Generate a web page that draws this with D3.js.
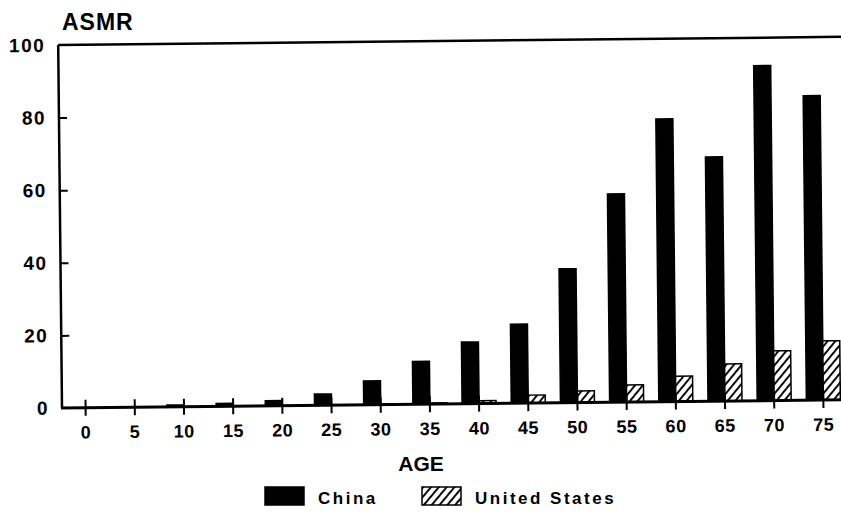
<!DOCTYPE html>
<html>
<head>
<meta charset="utf-8">
<script src="https://cdn.jsdelivr.net/npm/d3@7"></script>
<style>
  body { margin: 0; background: #fff; }
  svg { display: block; }
  text { font-family: "Liberation Sans", Arial, sans-serif; font-weight: bold; fill: #000; }
</style>
</head>
<body>
<div id="chart"></div>
<script>
// Age groups and age-specific mortality rates
const ages = ["0", "5", "10", "15", "20", "25", "30", "35", "40", "45", "50", "55", "60", "65", "70", "75"];
const china = [0, 0, 0.5, 0.8, 1.4, 3.1, 6.6, 11.8, 17, 21.8, 36.9, 57.4, 77.9, 67.3, 92.3, 83.9];
const usa = [0, 0, 0, 0, 0, 0.1, 0.2, 0.3, 0.8, 2.2, 3.2, 4.7, 7, 10.2, 13.7, 16.3];
const series = ["China", "United States"];
const yTicks = [0, 20, 40, 60, 80, 100];

const width = 841, height = 515;

const svg = d3.select("#chart").append("svg")
    .attr("width", width)
    .attr("height", height);

// hatch fill for the US bars ("////")
const defs = svg.append("defs");
const pat = defs.append("pattern")
    .attr("id", "hatch")
    .attr("patternUnits", "userSpaceOnUse")
    .attr("width", 6)
    .attr("height", 6)
    .attr("patternTransform", "rotate(40)");
pat.append("rect").attr("width", 6).attr("height", 6).attr("fill", "#fff");
pat.append("line")
    .attr("x1", 0).attr("y1", 0).attr("x2", 0).attr("y2", 6)
    .attr("stroke", "#000")
    .attr("stroke-width", 3.8);

// the scan is slightly tilted, so the plot is rotated a touch
const g = svg.append("g").attr("transform", "rotate(-0.6, 62, 408)");

const x = d3.scaleBand().domain(ages).range([61, 848]).padding(0);
const barW = 17;
const x1 = d3.scaleBand().domain(series)
    .range([x.bandwidth() / 2 - barW, x.bandwidth() / 2 + barW]);
const y = d3.scaleLinear().domain([0, 100]).range([408, 45]);

const rows = ages.map((a, i) => ({ age: a, values: [china[i], usa[i]] }));

// bars
const grp = g.append("g").selectAll("g")
    .data(rows)
    .enter().append("g")
    .attr("transform", d => `translate(${x(d.age)},0)`);

grp.selectAll("rect")
    .data(d => d.values.map((v, k) => ({ key: series[k], value: v })))
    .enter().append("rect")
    .attr("x", d => x1(d.key))
    .attr("width", x1.bandwidth())
    .attr("y", d => y(d.value))
    .attr("height", d => y(0) - y(d.value))
    .attr("fill", d => d.key === "China" ? "#000" : "url(#hatch)")
    .attr("stroke", "#000")
    .attr("stroke-width", d => d.value > 0 ? 1.5 : 0);

// frame: left axis and top line
g.append("line")
    .attr("x1", 62).attr("x2", 62)
    .attr("y1", y(100)).attr("y2", y(0))
    .attr("stroke", "#000").attr("stroke-width", 2.5);
g.append("line")
    .attr("x1", 62).attr("x2", 845)
    .attr("y1", y(100)).attr("y2", y(100))
    .attr("stroke", "#000").attr("stroke-width", 2.5);

// x axis
const xAxis = g.append("g")
    .attr("transform", `translate(0,${y(0)})`)
    .call(d3.axisBottom(x).tickSize(8).tickPadding(10));
xAxis.select(".domain").remove();
xAxis.append("line")
    .attr("x1", 61).attr("x2", 845)
    .attr("stroke", "#000").attr("stroke-width", 3);
xAxis.selectAll(".tick line")
    .attr("y1", -8).attr("y2", 8)
    .attr("stroke-width", 2);
xAxis.selectAll(".tick text")
    .style("font-size", "18px")
    .style("letter-spacing", "0.5px")
    .attr("font-family", null);

// y axis
const yAxis = g.append("g")
    .attr("transform", "translate(62,0)")
    .call(d3.axisRight(y).tickValues(yTicks).tickSize(8).tickFormat(d3.format("d")));
yAxis.select(".domain").remove();
yAxis.selectAll(".tick line")
    .attr("stroke-width", 2)
    .attr("display", d => (d === 0 || d === 100) ? "none" : null);
yAxis.selectAll(".tick text")
    .attr("x", -13)
    .attr("text-anchor", "end")
    .style("font-size", "19px")
    .style("letter-spacing", "1.5px")
    .attr("font-family", null);

// titles
svg.append("text")
    .attr("x", 62).attr("y", 30)
    .style("font-size", "23px")
    .style("letter-spacing", "1px")
    .text("ASMR");

svg.append("text")
    .attr("x", 421).attr("y", 471)
    .attr("text-anchor", "middle")
    .style("font-size", "21px")
    .text("AGE");

// legend
const legend = svg.append("g").attr("transform", "translate(265,487)");
const items = legend.selectAll("g")
    .data(series)
    .enter().append("g")
    .attr("transform", (d, i) => `translate(${i * 157},0)`);
items.append("rect")
    .attr("width", 39).attr("height", 18)
    .attr("fill", d => d === "China" ? "#000" : "url(#hatch)")
    .attr("stroke", "#000").attr("stroke-width", 1.5);
items.append("text")
    .attr("x", 53).attr("y", 17)
    .style("font-size", "17px")
    .style("letter-spacing", "2.5px")
    .text(d => d);
</script>
</body>
</html>
